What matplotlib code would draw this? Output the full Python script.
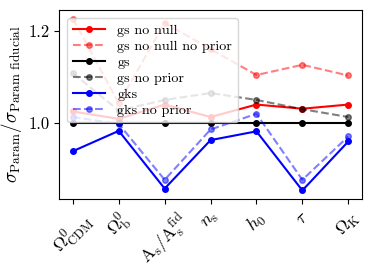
import matplotlib
matplotlib.use("Agg")
import matplotlib.pyplot as plt
import numpy as np

plt.rcParams['mathtext.fontset'] = 'cm'
plt.rcParams['font.family'] = 'serif'
plt.rcParams['font.serif'] = ['cmr10', 'DejaVu Serif']
plt.rcParams['axes.unicode_minus'] = False
plt.rcParams['axes.formatter.use_mathtext'] = True

params = [r'$\Omega^0_{\rm CDM}$', r'$\Omega^0_{\rm b}$', r'$\mathrm{A_s}/\mathrm{A_s^{fid}}$',
          r'$n_{\rm s}$', r'$h_0$', r'$\tau$', r'$\Omega_{\rm K}$']

gs_no_null = [1.025, 1.009, 1.040, 1.013, 1.040, 1.031, 1.040]
gs_no_null_no_prior = [1.226, 1.043, 1.217, 1.160, 1.104, 1.126, 1.103]
gs = [1.0, 1.0, 1.0, 1.0, 1.0, 1.0, 1.0]
gs_no_prior = [1.108, 1.027, 1.050, 1.065, 1.050, 1.030, 1.013]
gks = [0.939, 0.983, 0.858, 0.963, 0.982, 0.854, 0.960]
gks_no_prior = [1.013, 0.998, 0.877, 0.986, 1.020, 0.877, 0.971]

fig = plt.figure(figsize=(3.74, 2.73), dpi=100)
ax = fig.add_axes([0.158, 0.271, 0.81, 0.692])
x = np.arange(len(params))
ms = 4
ax.plot(x, gs_no_null, '-o', color='r', ms=ms, label='gs no null')
ax.plot(x, gs_no_null_no_prior, '--o', color='r', alpha=0.5, ms=ms, label='gs no null no prior')
ax.plot(x, gs, '-o', color='k', ms=ms, label='gs')
ax.plot(x, gs_no_prior, '--o', color='k', alpha=0.5, ms=ms, label='gs no prior')
ax.plot(x, gks, '-o', color='b', ms=ms, label='gks')
ax.plot(x, gks_no_prior, '--o', color='b', alpha=0.5, ms=ms, label='gks no prior')

ax.set_xticks(x)
ax.set_xticklabels(params, rotation=45, fontsize=13)
ax.set_yticks([1.0, 1.2])
ax.set_yticklabels(['1.0', '1.2'], fontsize=12)
ax.set_ylabel(r'$\sigma_{\rm Param}/\sigma_{\rm Param\ fiducial}$', fontsize=13.7, labelpad=3)
ax.legend(loc='upper left', fontsize=10.2, labelspacing=0.22, handlelength=2.3,
          handletextpad=0.85, borderaxespad=0.56, borderpad=0.4)
fig.savefig('out.png', dpi=100)
